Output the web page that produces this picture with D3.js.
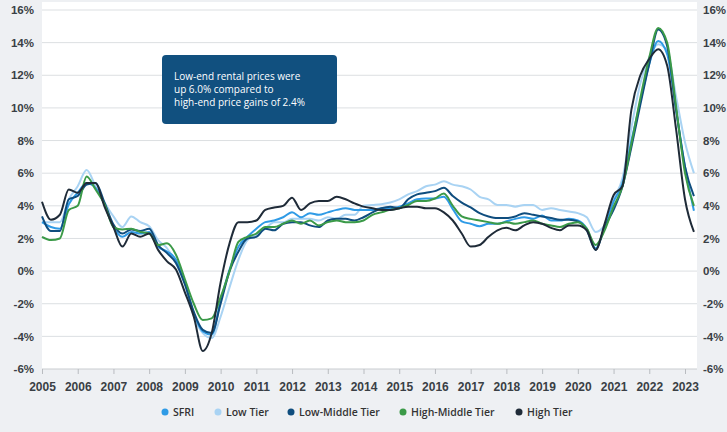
<!DOCTYPE html>
<html>
<head>
<meta charset="utf-8">
<script src="https://cdn.jsdelivr.net/npm/d3@7"></script>
<style>
  body { margin: 0; background: #eef0f3; }
  svg { display: block; font-family: "Open Sans", sans-serif; }
</style>
</head>
<body>
<div id="chart"></div>
<script>
// quarterly points, Jan 2005 .. Apr 2023
var dates = d3.range(0, 74).map(function(i) { return 2005 + i / 4; });

var sfri = [3.0, 2.7, 2.6, 4.1, 4.8, 5.4, 5.1, 4.1, 2.7, 2.1, 2.4, 2.3, 2.4, 1.5, 1.2, 0.7,
  -0.7, -2.6, -3.7, -3.9, -1.8, 0.1, 1.5, 2.1, 2.6, 3.0, 3.1, 3.3, 3.6, 3.3, 3.55, 3.45,
  3.6, 3.75, 3.85, 3.75, 3.75, 3.75, 3.85, 3.85, 3.95, 4.15, 4.4, 4.45, 4.45, 4.55, 3.8, 3.05,
  2.9, 2.75, 2.9, 2.9, 3.05, 3.2, 3.3, 3.2, 3.4, 3.1, 3.1, 3.2, 3.1, 2.6, 1.4, 2.7,
  4.25, 5.4, 8.0, 10.4, 12.7, 14.1, 13.3, 9.9, 6.4, 3.7];

var lowTier = [3.0, 3.0, 3.0, 4.4, 5.2, 6.2, 5.2, 4.2, 3.35, 2.7, 3.35, 3.0, 2.75, 1.9, 1.4, 0.5,
  -0.8, -2.8, -3.8, -4.1, -2.8, -1.0, 0.7, 1.9, 2.2, 2.6, 3.0, 3.0, 3.2, 3.2, 3.2, 3.1,
  3.3, 3.2, 3.45, 3.45, 4.0, 4.05, 4.1, 4.2, 4.4, 4.7, 4.9, 5.2, 5.3, 5.5, 5.3, 5.2,
  5.0, 4.55, 4.4, 4.05, 4.05, 3.95, 4.05, 4.05, 3.75, 3.85, 3.75, 3.65, 3.55, 3.3, 2.4, 2.8,
  4.35, 5.7, 8.8, 11.5, 13.1, 13.9, 13.5, 10.7, 7.9, 6.0];

var lowMiddle = [3.35, 2.45, 2.45, 4.4, 4.6, 5.3, 5.4, 4.2, 2.85, 2.3, 2.55, 2.45, 2.6, 1.6, 1.1, 0.5,
  -0.8, -2.5, -3.6, -3.8, -2.0, 0.0, 1.2, 2.0, 2.1, 2.6, 2.5, 2.9, 3.0, 3.0, 2.8, 2.7,
  3.1, 3.2, 3.2, 3.1, 3.3, 3.6, 3.85, 3.95, 3.85, 4.4, 4.7, 4.8, 4.9, 5.1, 4.6, 4.2,
  3.9, 3.55, 3.35, 3.25, 3.25, 3.35, 3.55, 3.45, 3.35, 3.25, 3.15, 3.15, 3.05, 2.5, 1.3, 2.7,
  3.75, 5.2, 7.6, 10.2, 12.7, 14.8, 13.8, 9.9, 6.4, 4.6];

var highMiddle = [2.1, 1.9, 2.0, 3.75, 4.0, 5.8, 5.0, 4.1, 2.7, 2.55, 2.6, 2.4, 2.3, 1.6, 1.7, 1.0,
  -0.5, -2.0, -3.0, -2.9, -1.6, 0.0, 1.8, 2.1, 2.3, 2.7, 2.7, 2.9, 3.1, 2.9, 3.1, 2.8,
  3.0, 3.1, 3.0, 3.0, 3.1, 3.45, 3.6, 3.75, 3.85, 4.05, 4.3, 4.3, 4.45, 4.75, 4.0, 3.35,
  3.2, 3.1, 3.0, 2.9, 3.0, 2.9, 3.0, 3.1, 2.9, 2.8, 2.7, 2.9, 3.0, 2.6, 1.6, 2.5,
  3.95, 5.2, 7.8, 10.6, 13.1, 14.9, 14.0, 10.1, 6.0, 4.0];

var highTier = [4.25, 3.15, 3.45, 5.0, 4.8, 5.4, 5.4, 3.95, 2.7, 1.5, 2.3, 2.1, 2.3, 1.3, 0.6, 0.1,
  -1.3, -2.8, -4.9, -3.8, -0.7, 1.7, 3.0, 3.0, 3.1, 3.75, 3.9, 4.0, 4.5, 3.75, 4.15, 4.3,
  4.3, 4.55, 4.4, 4.15, 3.95, 3.85, 3.75, 3.75, 3.85, 3.95, 3.95, 3.85, 3.85, 3.6, 3.1, 2.3,
  1.5, 1.6, 2.1, 2.5, 2.65, 2.5, 2.8, 3.0, 2.9, 2.65, 2.5, 2.8, 2.8, 2.5, 1.3, 2.9,
  4.65, 5.2, 9.9, 12.0, 13.0, 13.6, 12.6, 8.7, 4.4, 2.4];

var seriesNames = ["SFRI", "Low Tier", "Low-Middle Tier", "High-Middle Tier", "High Tier"];
var colors = ["#2f9be6", "#a9d3f3", "#0f4d7e", "#3b9a48", "#1f2b38"];
var yTicks = [-6, -4, -2, 0, 2, 4, 6, 8, 10, 12, 14, 16];
var xTicks = d3.range(2005, 2024);
var note = ["Low-end rental prices were", "up 6.0% compared to", "high-end price gains of 2.4%"];

var width = 727, height = 432;
var margin = { top: 10, left: 42, right: 30, bottom: 63 };

var svg = d3.select("#chart")
  .append("svg")
  .attr("width", width)
  .attr("height", height);

var x = d3.scaleLinear().domain([2005, 2023]).range([margin.left, 685]);
var y = d3.scaleLinear().domain([-6, 16]).range([height - margin.bottom, margin.top]);

// white plot panel
svg.append("rect")
  .attr("x", margin.left)
  .attr("y", 2)
  .attr("width", 697 - margin.left)
  .attr("height", y(-6) - 2)
  .attr("fill", "#fff");

// gridlines
svg.append("g")
  .selectAll("line")
  .data(yTicks.slice(1))
  .enter()
  .append("line")
  .attr("x1", margin.left)
  .attr("x2", 697)
  .attr("y1", function(d) { return y(d); })
  .attr("y2", function(d) { return y(d); })
  .attr("stroke", "#dcdfe2")
  .attr("stroke-width", 1);

// bottom axis
var xAxis = svg.append("g")
  .attr("transform", "translate(0," + y(-6) + ")")
  .call(d3.axisBottom(x).tickValues(xTicks).tickFormat(d3.format("d")).tickSize(5).tickPadding(8));
xAxis.select(".domain").attr("d", "M" + margin.left + ",0H697").attr("stroke", "#c9ccd0");
xAxis.selectAll(".tick line").attr("stroke", "#b9bcc0");
xAxis.selectAll("text")
  .style("font-size", "12px")
  .style("font-weight", "600")
  .style("fill", "#3a3f45");

// left and right y labels
var yLeft = svg.append("g")
  .attr("transform", "translate(" + margin.left + ",0)")
  .call(d3.axisLeft(y).tickValues(yTicks).tickFormat(function(d) { return d + "%"; }).tickSize(0).tickPadding(8));
var yRight = svg.append("g")
  .attr("transform", "translate(697,0)")
  .call(d3.axisRight(y).tickValues(yTicks).tickFormat(function(d) { return d + "%"; }).tickSize(0).tickPadding(6));
[yLeft, yRight].forEach(function(a) {
  a.select(".domain").remove();
  a.selectAll("text")
    .style("font-size", "11.5px")
    .style("font-weight", "600")
    .style("fill", "#3a3f45");
});

var line = d3.line()
  .x(function(d) { return x(d[0]); })
  .y(function(d) { return y(d[1]); })
  .curve(d3.curveMonotoneX);

// draw order: light tier below, high tier on top
var allSeries = [lowTier, sfri, lowMiddle, highMiddle, highTier];
var drawColors = [colors[1], colors[0], colors[2], colors[3], colors[4]];

svg.append("g")
  .selectAll("path")
  .data(allSeries)
  .enter()
  .append("path")
  .attr("d", function(s) { return line(dates.map(function(dt, i) { return [dt, s[i]]; })); })
  .attr("fill", "none")
  .attr("stroke", function(d, i) { return drawColors[i]; })
  .attr("stroke-width", 2)
  .attr("stroke-linejoin", "round");

// annotation box
var box = svg.append("g").attr("transform", "translate(162,55)");
box.append("rect")
  .attr("width", 175)
  .attr("height", 69)
  .attr("rx", 4)
  .attr("fill", "#11507f");
box.selectAll("text")
  .data(note)
  .enter()
  .append("text")
  .attr("x", 12)
  .attr("y", function(d, i) { return 25 + i * 13; })
  .style("font-size", "10px")
  .style("fill", "#fff")
  .text(function(d) { return d; });

// legend
var legendX = [165, 218, 291, 403, 519];
var legend = svg.append("g")
  .selectAll("g")
  .data(seriesNames)
  .enter()
  .append("g")
  .attr("transform", function(d, i) { return "translate(" + legendX[i] + ",412)"; });
legend.append("circle")
  .attr("r", 3.5)
  .attr("fill", function(d, i) { return colors[i]; });
legend.append("text")
  .attr("x", 8)
  .attr("y", 4)
  .style("font-size", "10.5px")
  .style("font-weight", "600")
  .style("fill", "#333")
  .text(function(d) { return d; });
</script>
</body>
</html>
